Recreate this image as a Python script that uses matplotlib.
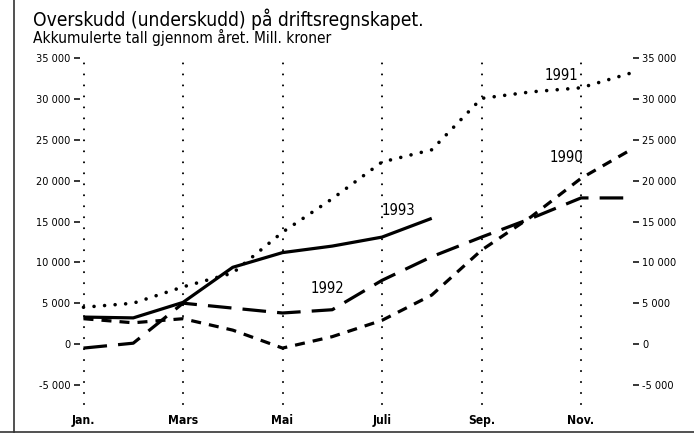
import matplotlib
matplotlib.use("Agg")
import matplotlib.pyplot as plt
from matplotlib.lines import Line2D
from matplotlib import font_manager

fonts = font_manager.fontManager.ttflist
names = {f.name for f in fonts}
cond = [f for f in fonts if f.name == "DejaVu Sans" and "ondensed" in f.fname]
if "Liberation Sans Narrow" in names:
    FAM, STRETCH, SCALE = "Liberation Sans Narrow", "normal", 1.0
elif cond:
    FAM, STRETCH, SCALE = "DejaVu Sans", "condensed", 0.92
else:
    FAM, STRETCH, SCALE = "DejaVu Sans", "normal", 0.78
plt.rcParams['font.family'] = [FAM, 'DejaVu Sans']
plt.rcParams['font.stretch'] = STRETCH
plt.rcParams['lines.scale_dashes'] = False

months = list(range(12))
tick_months = [0, 2, 4, 6, 8, 10]
tick_labels = ["Jan.", "Mars", "Mai", "Juli", "Sep.", "Nov."]
yticks = [-5000, 0, 5000, 10000, 15000, 20000, 25000, 30000, 35000]
ytick_text = ["-5 000", "0", "5 000", "10 000", "15 000", "20 000", "25 000", "30 000", "35 000"]

v1990 = [3100, 2600, 3100, 1700, -500, 900, 2900, 6000, 11500, 15600, 20300, 23800]
v1991 = [4500, 5000, 7000, 8700, 13700, 17800, 22300, 23800, 30100, 30900, 31400, 33200]
v1992 = [-500, 100, 5000, 4400, 3800, 4200, 7800, 10700, 13100, 15400, 17900, 17900]
v1993 = [3300, 3200, 5100, 9400, 11200, 12000, 13100, 15400]

W, H = 694, 445
fig = plt.figure(figsize=(W / 100, H / 100), dpi=100)

ax_l, ax_r, ax_t, ax_b = 80, 633, 58.4, 404
ax = fig.add_axes([ax_l / W, 1 - ax_b / H, (ax_r - ax_l) / W, (ax_b - ax_t) / H])
px_month = 49.75
jan_px = 83.5
ax.set_xlim((ax_l - jan_px) / px_month, (ax_r - jan_px) / px_month)
zero_px = 344
px_per_k = 8.16
ax.set_ylim((zero_px - ax_b) / px_per_k * 1000, 35000)

for s in ax.spines.values():
    s.set_visible(False)

# vertical dotted month lines
for m in tick_months:
    ax.plot([m, m], [ax.get_ylim()[0], 35000], color='black', lw=1.5,
            linestyle=(0, (0.01, 7.9)), dash_capstyle='round', clip_on=False, zorder=1)

lw = 2.3
ax.plot(months, v1991, color='black', lw=2.6, linestyle=(0, (0.01, 7.6)),
        dash_capstyle='round', clip_on=False, zorder=3)
ax.plot(months, v1990, color='black', lw=lw, linestyle=(0, (7.2, 5.8)),
        dash_capstyle='butt', clip_on=False, zorder=3)
ax.plot(months, v1992, color='black', lw=lw, linestyle=(0, (17, 8)),
        dash_capstyle='butt', clip_on=False, zorder=3)
ax.plot(months[:len(v1993)], v1993, color='black', lw=lw, solid_capstyle='butt',
        clip_on=False, zorder=3)

lab_fs = 11.5 * SCALE
ax.text(6.34, 16300, "1993", fontsize=lab_fs, ha='center', va='center')
ax.text(4.91, 6860, "1992", fontsize=lab_fs, ha='center', va='center')
ax.text(9.6, 32960, "1991", fontsize=lab_fs, ha='center', va='center')
ax.text(9.7, 22900, "1990", fontsize=lab_fs, ha='center', va='center')

ax.set_xticks(tick_months)
ax.set_xticklabels(tick_labels, fontsize=9.5 * SCALE, fontweight='bold')
ax.tick_params(axis='x', length=0, pad=7)

ax.set_yticks(yticks)
ax.set_yticklabels(ytick_text, fontsize=8.5 * SCALE)
ax.tick_params(axis='y', which='both', direction='out', length=4.3, width=1.1,
               left=True, right=True, labelleft=True, labelright=True, pad=2.5)

fig.text(33 / W, 1 - 26 / H, "Overskudd (underskudd) på driftsregnskapet.",
         fontsize=15 * SCALE, ha='left', va='baseline')
fig.text(33 / W, 1 - 42.5 / H, "Akkumulerte tall gjennom året. Mill. kroner",
         fontsize=12 * SCALE, ha='left', va='baseline')

# frame lines
fig.add_artist(Line2D([14 / W, 14 / W], [1 - 432 / H, 1.0], transform=fig.transFigure,
                      color='#333333', lw=1.2))
fig.add_artist(Line2D([0, 1], [1 - 432 / H, 1 - 432 / H], transform=fig.transFigure,
                      color='#333333', lw=1.2))

fig.savefig("out.png", dpi=100)
